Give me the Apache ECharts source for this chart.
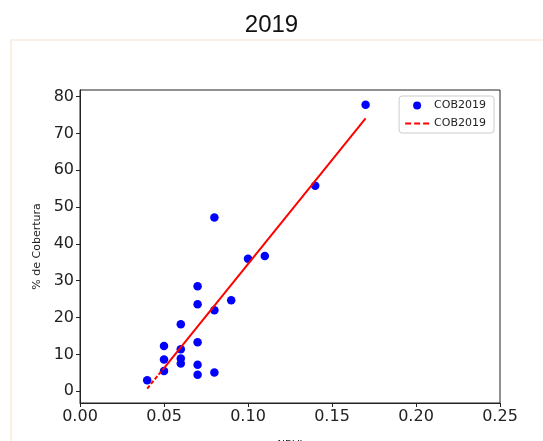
<!DOCTYPE html>
<html><head><meta charset="utf-8">
<script src="https://cdn.jsdelivr.net/npm/echarts@6/dist/echarts.min.js"></script>
<style>html,body{margin:0;padding:0;background:#fff}#c{width:543px;height:441px}</style>
</head><body><div id="c"></div>
<script>
const ndvi = [0.04,0.05,0.05,0.05,0.06,0.06,0.06,0.06,0.07,0.07,0.07,0.07,0.07,0.08,0.08,0.08,0.09,0.10,0.11,0.14,0.17];
const cobertura = [3.0,5.5,8.6,12.3,7.5,8.9,11.4,18.2,4.5,7.2,13.3,23.6,28.5,5.1,22.0,47.2,24.7,36.0,36.7,55.8,77.8];
const fitDashX = [0.04,0.05];
const fitDashY = [0.7,6.3];
const fitSolidX = [0.05,0.17];
const fitSolidY = [6.3,74.1];
const xTicks = [0,0.05,0.10,0.15,0.20,0.25];
const yTicks = [0,10,20,30,40,50,60,70,80];
const titleText = '2019';
const seriesName = 'COB2019';

const pts = ndvi.map((x,i)=>[x,cobertura[i]]);
const dash = fitDashX.map((x,i)=>[x,fitDashY[i]]);
const solid = fitSolidX.map((x,i)=>[x,fitSolidY[i]]);
const font = 'DejaVu Sans';
const chart = echarts.init(document.getElementById('c'));
chart.setOption({
  animation:false,
  title:{text:titleText,left:'center',top:8,textStyle:{fontFamily:'Liberation Sans',fontSize:24,fontWeight:'normal',color:'#111'}},
  graphic:[{type:'rect',shape:{x:11,y:40,width:600,height:500},style:{fill:'none',stroke:'#fcefe3',lineWidth:2},z:-1}],
  grid:{left:80,right:43,top:90,bottom:38,outerBoundsMode:'none',containLabel:false,show:true,borderColor:'#222',borderWidth:1,backgroundColor:'transparent'},
  legend:{
    right:49,top:96,orient:'vertical',
    data:[
      {name:'pts',icon:'circle',itemStyle:{color:'#0000ff'}},
      {name:'fit',icon:'path://M0,0h6v2h-6zM9,0h6v2h-6zM18,0h6v2h-6z',itemStyle:{color:'#ff0000'}}
    ],
    formatter:()=>seriesName,
    itemWidth:24,itemHeight:8,itemGap:7,
    borderColor:'#ccc',borderWidth:1,borderRadius:3,padding:[4,8,4,6],
    textStyle:{fontFamily:font,fontSize:11,color:'#222'}
  },
  xAxis:{type:'value',min:0,max:0.25,interval:0.05,
    axisLine:{onZero:false,lineStyle:{color:'#222'}},
    axisTick:{show:true,inside:false,length:4,lineStyle:{color:'#222'}},
    axisLabel:{fontFamily:font,fontSize:16,color:'#222',margin:6,formatter:v=>v.toFixed(2)},
    splitLine:{show:false},
    name:'NDVI',nameLocation:'middle',nameGap:37,nameTextStyle:{fontFamily:font,fontSize:10,color:'#222'}},
  yAxis:{type:'value',min:-3.2,max:81.8,
    axisLine:{show:true,onZero:false,lineStyle:{color:'#222'}},
    axisTick:{show:true,inside:false,length:4,customValues:yTicks,lineStyle:{color:'#222'}},
    axisLabel:{fontFamily:font,fontSize:16,color:'#222',margin:6,customValues:yTicks},
    splitLine:{show:false},
    name:'% de Cobertura',nameLocation:'middle',nameGap:36,nameRotate:90,nameTextStyle:{fontFamily:font,fontSize:11,color:'#222'}},
  series:[
    {name:'pts',type:'scatter',data:pts,symbolSize:8.5,itemStyle:{color:'#0000ff',opacity:1},z:3},
    {name:'fit',type:'line',data:dash,symbol:'none',lineStyle:{color:'#ff0000',width:2,type:[4,2]},itemStyle:{color:'#ff0000'},z:4},
    {name:'fitSolid',type:'line',data:solid,symbol:'none',lineStyle:{color:'#ff0000',width:2,type:'solid'},z:4}
  ]
});
</script></body></html>
